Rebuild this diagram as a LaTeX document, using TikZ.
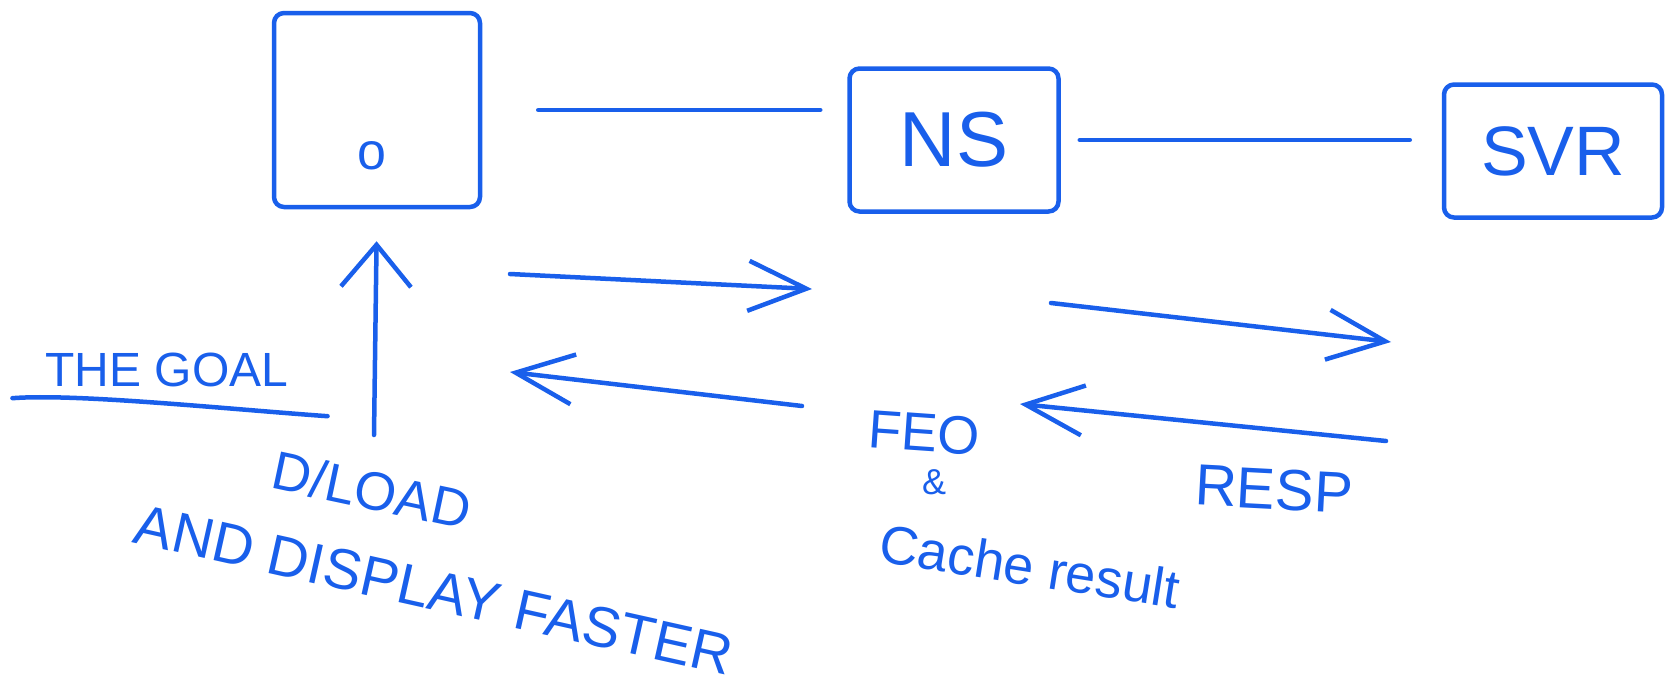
\documentclass[tikz,border=0pt]{standalone}
\usepackage{fontspec}
\setmainfont{Liberation Sans}
\usetikzlibrary{arrows.meta, positioning}
\definecolor{pen}{RGB}{25,95,235}

\begin{document}
\begin{tikzpicture}[
  x=1pt, y=-1pt,
  ink/.style={draw=pen, line width=4.5pt, line cap=round, line join=round},
  box/.style={ink, rectangle, rounded corners=10pt, text=pen, inner sep=0pt},
  link/.style={ink, -},
  flow/.style={ink, -{Straight Barb[length=58pt, width=50pt]}},
  hand/.style={text=pen, inner sep=0pt},
]
\useasboundingbox (0,0) rectangle (1665,691);

%% Boxes
\node[box, minimum width=206pt, minimum height=194pt] (client) at (377,110) {};
\node[box, minimum width=209pt, minimum height=143pt,
      font=\fontsize{78}{80}\selectfont] (ns) at (954,140) {NS};
\node[box, minimum width=218pt, minimum height=133pt,
      font=\fontsize{70}{72}\selectfont] (svr) at (1553,151) {SVR};
\node[hand, font=\fontsize{52}{52}\selectfont] (dot) at (372,156) {o};

%% Links
\draw[link, shorten <=56pt, shorten >=27pt] (client.east) -- (client.east -| ns.west);
\draw[link, shorten <=19pt, shorten >=32pt] (ns.east) -- (ns.east -| svr.west);

%% Labels
\node[hand, font=\fontsize{48}{50}\selectfont] (goal) at (167,370) {THE GOAL};
\draw[ink] ([xshift=-33pt, yshift=-11pt]goal.south west)
  .. controls ([xshift=30pt, yshift=-6pt]goal.south west)
  and ([xshift=-60pt, yshift=-22pt]goal.south east)
  .. ([xshift=39pt, yshift=-29pt]goal.south east);
\node[hand, font=\fontsize{54}{56}\selectfont, rotate=-12] (dload) at (372,490) {D/LOAD};
\node[hand, font=\fontsize{57}{59}\selectfont, rotate=-12.6] (faster) at (434,590) {AND DISPLAY FASTER};
\node[hand, font=\fontsize{54}{56}\selectfont, rotate=-4] (req) at (924,433) {FEO};
\node[hand, font=\fontsize{36}{38}\selectfont] (amp) at (934,482) {\&};
\node[hand, font=\fontsize{54}{56}\selectfont, rotate=-9] (cache) at (1030,566) {Cache result};
\node[hand, font=\fontsize{58}{60}\selectfont, rotate=-3] (resp) at (1274,489) {RESP};

%% Flow arrows
\coordinate (up) at (374,435);
\coordinate (reqA) at (510,274);
\coordinate (reqB) at (812,289);
\coordinate (fwdA) at (1051,303);
\coordinate (fwdB) at (1391,342);
\coordinate (retA) at (802,406);
\coordinate (retB) at (510,372);
\coordinate (rspA) at (1386,441);
\coordinate (rspB) at (1020,404);
\draw[flow, -{Straight Barb[length=42pt, width=70pt]}, shorten >=32pt] (up) -- (client.south);
\draw[flow] (reqA) -- (reqB);
\draw[flow] (fwdA) -- (fwdB);
\draw[flow] (retA) -- (retB);
\draw[flow] (rspA) -- (rspB);
\end{tikzpicture}
\end{document}
